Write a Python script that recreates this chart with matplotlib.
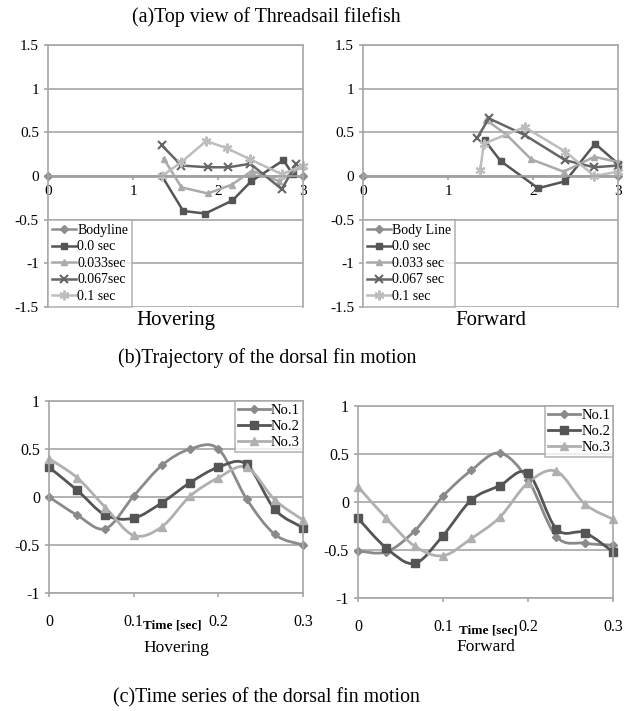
import numpy as np
import matplotlib
matplotlib.use("Agg")
import matplotlib.pyplot as plt
from matplotlib.path import Path
from matplotlib.patches import PathPatch
from matplotlib.lines import Line2D

plt.rcParams["font.family"] = ["Liberation Serif", "DejaVu Serif"]

# === (b) Trajectory data: x position, y position ===
body_x = [0, 3]
body_y = [0, 0]

hov_labels = ["Bodyline", "0.0 sec", "0.033sec", "0.067sec", "0.1 sec"]
hov_t00_x = [1.34, 1.59, 1.85, 2.17, 2.39, 2.77, 2.88]
hov_t00_y = [0.0, -0.40, -0.43, -0.28, -0.06, 0.18, 0.02]
hov_t033_x = [1.36, 1.57, 1.88, 2.16, 2.40, 2.72, 3.0]
hov_t033_y = [0.20, -0.13, -0.20, -0.10, 0.06, -0.06, 0.12]
hov_t067_x = [1.34, 1.57, 1.88, 2.12, 2.38, 2.75, 2.92]
hov_t067_y = [0.35, 0.12, 0.10, 0.10, 0.14, -0.15, 0.14]
hov_t10_x = [1.34, 1.57, 1.86, 2.10, 2.38, 2.75, 3.0]
hov_t10_y = [0.0, 0.16, 0.40, 0.32, 0.19, 0.02, 0.12]

fwd_labels = ["Body Line", "0.0 sec", "0.033 sec", "0.067 sec", "0.1 sec"]
fwd_t00_x = [1.43, 1.62, 2.06, 2.38, 2.73, 3.0]
fwd_t00_y = [0.41, 0.17, -0.14, -0.06, 0.37, 0.14]
fwd_t033_x = [1.45, 1.68, 1.98, 2.36, 2.72, 3.0]
fwd_t033_y = [0.64, 0.48, 0.19, 0.05, 0.22, 0.16]
fwd_t067_x = [1.34, 1.48, 1.90, 2.38, 2.72, 3.0]
fwd_t067_y = [0.43, 0.66, 0.47, 0.18, 0.10, 0.12]
fwd_t10_x = [1.38, 1.42, 1.90, 2.38, 2.72, 3.0]
fwd_t10_y = [0.07, 0.37, 0.56, 0.28, 0.0, 0.05]

# === (c) Time series data ===
t = [0, 0.0333, 0.0667, 0.1, 0.1333, 0.1667, 0.2, 0.2333, 0.2667, 0.3]
ts_labels = ["No.1", "No.2", "No.3"]
hov_no1 = [0.0, -0.19, -0.33, 0.01, 0.33, 0.50, 0.50, -0.02, -0.39, -0.50]
hov_no2 = [0.31, 0.07, -0.19, -0.22, -0.06, 0.15, 0.31, 0.34, -0.13, -0.32]
hov_no3 = [0.40, 0.20, -0.11, -0.40, -0.31, 0.01, 0.20, 0.31, -0.03, -0.24]
fwd_no1 = [-0.51, -0.52, -0.30, 0.06, 0.33, 0.51, 0.23, -0.36, -0.43, -0.45]
fwd_no2 = [-0.17, -0.48, -0.64, -0.35, 0.02, 0.17, 0.30, -0.28, -0.32, -0.52]
fwd_no3 = [0.16, -0.17, -0.46, -0.56, -0.38, -0.16, 0.20, 0.32, -0.02, -0.18]

GRID = "#a6a6a6"
traj_styles = [
    dict(color="#8e8e8e", marker="D", ms=4),
    dict(color="#555555", marker="s", ms=5),
    dict(color="#aaaaaa", marker="^", ms=5),
    dict(color="#666666", marker="x", ms=6, mew=1.5),
    dict(color="#bdbdbd", marker=(6, 2, 0), ms=7, mew=1.5),
]
ts_styles = [
    dict(color="#8a8a8a", marker="D", ms=4),
    dict(color="#555555", marker="s", ms=6),
    dict(color="#b0b0b0", marker="^", ms=6),
]

fig = plt.figure(figsize=(6.35, 7.11), dpi=100)


def frame(ax, xlim, ylim, size):
    ax.set_xlim(*xlim)
    ax.set_ylim(*ylim)
    for s in ax.spines.values():
        s.set_color(GRID)
        s.set_linewidth(1.2)
    ax.yaxis.grid(True, color=GRID, linewidth=1.2)
    ax.set_axisbelow(True)
    ax.tick_params(colors=GRID, labelcolor="black", labelsize=size, length=3, width=1.2)


def traj_panel(rect, series, labels, name):
    ax = fig.add_axes(rect)
    frame(ax, (0, 3), (-1.5, 1.5), 11)
    ax.spines["bottom"].set_position(("data", 0))
    ax.set_xticks([0, 1, 2, 3])
    ax.set_yticks([-1.5, -1, -0.5, 0, 0.5, 1, 1.5])
    ax.set_yticklabels(["-1.5", "-1", "-0.5", "0", "0.5", "1", "1.5"])
    for (x, y), st, lab in zip(series, traj_styles, labels):
        ax.plot(x, y, lw=1.8, label=lab, clip_on=False, **st)
    leg = ax.legend(loc="lower left", fontsize=10, frameon=True, fancybox=False,
                    borderaxespad=0, handlelength=1.7, handletextpad=0.1,
                    labelspacing=0.25, borderpad=0.3)
    leg.get_frame().set_edgecolor(GRID)
    leg.get_frame().set_linewidth(1.2)
    ax.text(0.5, -0.05, name, transform=ax.transAxes, ha="center", va="center",
            fontsize=15)
    return ax


def smooth_path(x, y):
    x = np.asarray(x, float)
    y = np.asarray(y, float)
    p = np.column_stack([x, y])
    ext = np.vstack([p[0], p, p[-1]])
    verts = [p[0]]
    codes = [Path.MOVETO]
    for i in range(len(p) - 1):
        p0, p1, p2, p3 = ext[i], ext[i + 1], ext[i + 2], ext[i + 3]
        verts += [p1 + (p2 - p0) / 6, p2 - (p3 - p1) / 6, p2]
        codes += [Path.CURVE4] * 3
    return Path(verts, codes)


def ts_panel(rect, series, name, xlab_x, name_y):
    ax = fig.add_axes(rect)
    frame(ax, (0, 0.3), (-1, 1), 11.5)
    ax.set_xticks([0, 0.1, 0.2, 0.3])
    ax.set_xticklabels(["0", "0.1", "0.2", "0.3"])
    ax.tick_params(axis="x", pad=12)
    ax.set_yticks([-1, -0.5, 0, 0.5, 1])
    ax.set_yticklabels(["-1", "-0.5", "0", "0.5", "1"])
    handles = []
    for y, st, lab in zip(series, ts_styles, ts_labels):
        ax.add_patch(PathPatch(smooth_path(t, y), fill=False, edgecolor=st["color"],
                               lw=2.0, clip_on=False))
        ax.plot(t, y, linestyle="none", clip_on=False, **st)
        handles.append(Line2D([], [], lw=2.0, **st))
    leg = ax.legend(handles, ts_labels, loc="upper right", fontsize=10.5, frameon=True,
                    fancybox=False, borderaxespad=0, handlelength=2.2,
                    handletextpad=0.1, labelspacing=0.2, borderpad=0.2)
    leg.get_frame().set_edgecolor(GRID)
    leg.get_frame().set_linewidth(1.2)
    ax.text(xlab_x, -0.17, "Time [sec]", transform=ax.transAxes, ha="center",
            va="center", fontsize=9.5, fontweight="bold")
    ax.text(0.5, name_y, name, transform=ax.transAxes, ha="center", va="center",
            fontsize=12.5)
    return ax


traj_panel([0.0756, 0.5682, 0.4016, 0.3685],
           [(body_x, body_y), (hov_t00_x, hov_t00_y), (hov_t033_x, hov_t033_y),
            (hov_t067_x, hov_t067_y), (hov_t10_x, hov_t10_y)],
           hov_labels, "Hovering")
traj_panel([0.5717, 0.5682, 0.4016, 0.3685],
           [(body_x, body_y), (fwd_t00_x, fwd_t00_y), (fwd_t033_x, fwd_t033_y),
            (fwd_t067_x, fwd_t067_y), (fwd_t10_x, fwd_t10_y)],
           fwd_labels, "Forward")

ts_panel([0.0772, 0.166, 0.40, 0.27], [hov_no1, hov_no2, hov_no3], "Hovering", 0.484, -0.285)
ts_panel([0.5638, 0.159, 0.4016, 0.27], [fwd_no1, fwd_no2, fwd_no3], "Forward", 0.51, -0.255)

fig.text(0.42, 1 - 17 / 711, "(a)Top view of Threadsail filefish", ha="center",
         va="center", fontsize=14.3)
fig.text(0.42, 1 - 358 / 711, "(b)Trajectory of the dorsal fin motion", ha="center",
         va="center", fontsize=14.3)
fig.text(0.42, 1 - 698 / 711, "(c)Time series of the dorsal fin motion", ha="center",
         va="center", fontsize=14.3)

fig.savefig("out.png", dpi=100)
